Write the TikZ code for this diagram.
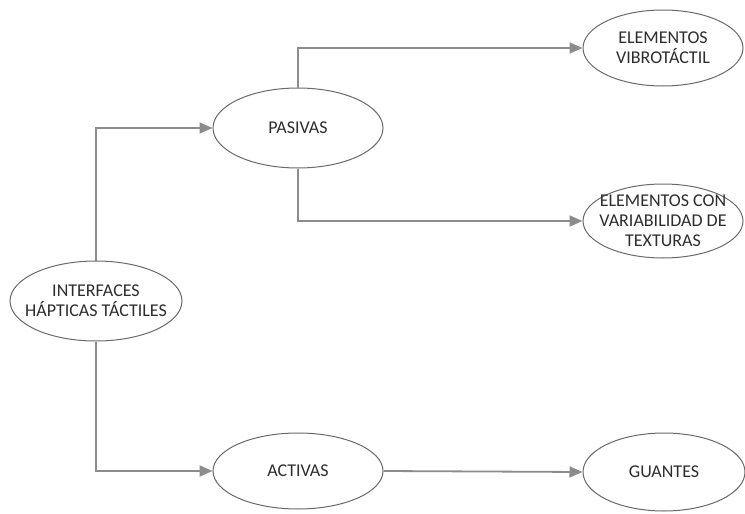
\documentclass[tikz,border=0pt]{standalone}
\usepackage{fontspec}
\setmainfont{Carlito}
\usetikzlibrary{arrows.meta,shapes.geometric}
\definecolor{linegray}{RGB}{140,140,140}
\definecolor{rimgray}{RGB}{105,105,105}
\definecolor{txtgray}{RGB}{45,45,45}
\tikzset{
  bubble/.style={ellipse, draw=rimgray, line width=1pt, fill=white, inner sep=0pt},
  every label/.style={text=txtgray, align=center, inner sep=0pt,
    font=\fontsize{18}{20}\selectfont},
  conn/.style={draw=linegray, line width=1.8pt,
    -{Triangle[length=13pt,width=11pt,fill=linegray]}}
}
\begin{document}
\begin{tikzpicture}[x=1pt,y=-1pt]
  \useasboundingbox (0,0) rectangle (745,514);
  \fill[white] (0,0) rectangle (745,514);

  \node[bubble, minimum width=172pt, minimum height=80pt,
        label=center:{INTERFACES\\HÁPTICAS TÁCTILES}] (iface) at (96,301) {};
  \node[bubble, minimum width=170pt, minimum height=80pt,
        label=center:PASIVAS] (pas) at (298,128) {};
  \node[bubble, minimum width=170pt, minimum height=76pt,
        label=center:ACTIVAS] (act) at (298,471) {};
  \node[bubble, minimum width=160pt, minimum height=76pt,
        label=center:{ELEMENTOS\\VIBROTÁCTIL}] (vib) at (663,48) {};
  \node[bubble, minimum width=160pt, minimum height=74pt,
        label=center:{ELEMENTOS CON\\VARIABILIDAD DE\\TEXTURAS}] (tex) at (663,221) {};
  \node[bubble, minimum width=162pt, minimum height=78pt,
        label=center:GUANTES] (guan) at (664,472) {};

  \draw[conn] (iface.north) |- (pas.west);
  \draw[conn] (iface.south) |- (act.west);
  \draw[conn] (pas.north) |- (vib.west);
  \draw[conn] (pas.south) |- (tex.west);
  \draw[conn] (act.east) -- (guan.west);
\end{tikzpicture}
\end{document}
